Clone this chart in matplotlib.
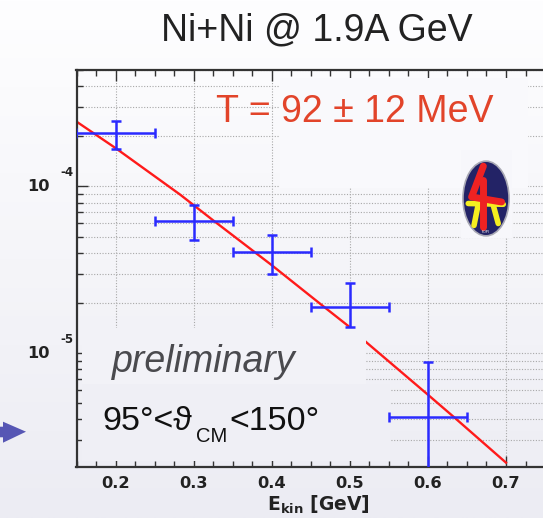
import numpy as np
import matplotlib
matplotlib.use('Agg')
import matplotlib.pyplot as plt
from matplotlib import transforms
from matplotlib.patches import Rectangle, Ellipse, Polygon
from matplotlib.ticker import LogLocator, MultipleLocator, NullFormatter, FormatStrFormatter

plt.rcParams['font.family'] = ['Liberation Sans', 'DejaVu Sans']

# ---------------- data ----------------
energy = [0.2, 0.3, 0.4, 0.5, 0.6]
yield_vals = [2.10e-4, 6.23e-5, 4.03e-5, 1.90e-5, 4.14e-6]
yield_hi = [2.48e-4, 7.77e-5, 5.09e-5, 2.65e-5, 8.87e-6]
yield_lo = [1.67e-4, 4.77e-5, 2.97e-5, 1.43e-5, 1.0e-6]
energy_lo = [0.15, 0.25, 0.35, 0.45, 0.55]
energy_hi = [0.25, 0.35, 0.45, 0.55, 0.65]

fit_energy = [0.150, 0.200, 0.2825, 0.325, 0.400, 0.466, 0.500, 0.5216, 0.6005, 0.6325, 0.700]
fit_yield = [2.45e-4, 1.70e-4, 8.95e-5, 6.26e-5, 3.37e-5, 1.91e-5, 1.43e-5, 1.156e-5, 5.60e-6, 4.16e-6, 2.20e-6]

y_major_ticks = [1e-5, 1e-4]
y_major_exps = ['-5', '-4']

title = 'Ni+Ni @ 1.9A GeV'
temp_label = 'T = 92 \u00b1 12 MeV'

W, H = 543, 518
fig = plt.figure(figsize=(W / 100, H / 100), dpi=100)

top_c = np.array([254, 254, 255]) / 255
bot_c = np.array([236, 236, 243]) / 255


def bgcol(ypx):
    t = ypx / H
    return tuple(top_c + (bot_c - top_c) * t)


def fx(x):
    return x / W


def fy(y):
    return 1 - y / H


# background gradient
bg = fig.add_axes([0, 0, 1, 1], zorder=-5)
grad = np.linspace(0, 1, 256)[:, None, None]
img = top_c[None, None, :] + (bot_c - top_c)[None, None, :] * grad
bg.imshow(img, aspect='auto', extent=[0, 1, 0, 1], origin='upper')
bg.set_axis_off()

# main axes
x_left = 76.5
px_per_unit = (506.0 - 76.5) / 0.55
xmax = 0.78
x_right_px = x_left + (xmax - 0.15) * px_per_unit
y_top, y_bot = 70.0, 466.7
ax = fig.add_axes([fx(x_left), fy(y_bot), (x_right_px - x_left) / W, (y_bot - y_top) / H])
ax.set_facecolor('none')
ax.set_yscale('log')
ax.set_xlim(0.15, xmax)
ax.set_ylim(2.08e-6, 5e-4)
ax.set_axisbelow(True)

ax.xaxis.set_major_locator(MultipleLocator(0.1))
ax.xaxis.set_minor_locator(MultipleLocator(0.025))
ax.xaxis.set_major_formatter(FormatStrFormatter('%.1f'))
ax.yaxis.set_major_locator(LogLocator(base=10))
ax.yaxis.set_minor_locator(LogLocator(base=10, subs=np.arange(2, 10)))
ax.yaxis.set_minor_formatter(NullFormatter())

ax.tick_params(axis='x', which='both', direction='in', top=True, bottom=True,
               labelsize=11.7, pad=7, colors='#333333', labelcolor='#222222')
ax.tick_params(axis='x', which='major', length=8, width=1)
ax.tick_params(axis='x', which='minor', length=4, width=1)
ax.tick_params(axis='y', which='both', direction='in', left=True, right=True,
               labelleft=False, colors='#333333')
ax.tick_params(axis='y', which='major', length=8, width=1)
ax.tick_params(axis='y', which='minor', length=4.5, width=1)
for lab in ax.get_xticklabels():
    lab.set_fontweight('bold')
    lab.set_family('DejaVu Sans')

for s in ax.spines.values():
    s.set_linewidth(1.6)
    s.set_color('#333333')

gridkw = dict(ls=(0, (1, 1.5)), color='#a8a8a8', lw=0.8)
ax.yaxis.grid(True, which='both', **gridkw)
ax.xaxis.grid(True, which='major', **gridkw)

# fit line
ax.plot(fit_energy, fit_yield, color='#ff1a1a', lw=1.7, zorder=2)

# data points with error bars
yv = np.array(yield_vals)
yerr = [yv - np.array(yield_lo), np.array(yield_hi) - yv]
ev = np.array(energy)
xerr = [ev - np.array(energy_lo), np.array(energy_hi) - ev]
ax.errorbar(energy, yield_vals, yerr=yerr, xerr=xerr, fmt='none', ecolor='#2a2aff',
            elinewidth=1.8, capsize=3.5, capthick=1.8, zorder=3)

# background-coloured boxes behind the text labels (hide grid/fit)
boxes = [(280, 528, 78, 188), (461, 512, 150, 238), (82, 366, 328, 384), (82, 390, 384, 461)]
for x0, x1, y0, y1 in boxes:
    ax.add_patch(Rectangle((fx(x0), fy(y1)), (x1 - x0) / W, (y1 - y0) / H,
                           transform=fig.transFigure, facecolor=bgcol((y0 + y1) / 2),
                           edgecolor='none', zorder=2.4))

# y tick labels 10^-n
trans = transforms.blended_transform_factory(fig.transFigure, ax.transData)
for v, e in zip(y_major_ticks, y_major_exps):
    ax.text(fx(38.5), v, '10', transform=trans, ha='center', va='center',
            fontsize=11.7, fontweight='bold', family='DejaVu Sans', color='#222222', clip_on=False)
    t2 = transforms.offset_copy(trans, fig=fig, x=0, y=14, units='dots')
    ax.text(fx(66.5), v, e, transform=t2, ha='center', va='center',
            fontsize=8.5, fontweight='bold', family='DejaVu Sans', color='#222222', clip_on=False)

# x axis label
plt.rcParams['mathtext.fontset'] = 'dejavusans'
fig.text(fx(318.5), fy(510.7), r'$\mathbf{E_{kin}}$ [GeV]', ha='center', va='baseline',
         fontsize=13.5, fontweight='bold', family='DejaVu Sans', color='#222222')

# title and annotations
fig.text(fx(316.7), fy(40), title, ha='center', va='baseline', fontsize=27, color='#222222')
fig.text(fx(355), fy(122.3), temp_label, ha='center', va='baseline', fontsize=27, color='#e2442a')
fig.text(fx(112), fy(371.7), 'preliminary', ha='left', va='baseline', fontsize=27,
         style='italic', color='#4a4a4e')

fig.canvas.draw()
r = fig.canvas.get_renderer()
t_a = fig.text(fx(102), fy(430), '95\u00b0<\u03d1', ha='left', va='baseline', fontsize=24.5, color='#111111')
bb = t_a.get_window_extent(renderer=r)
t_b = fig.text((bb.x1 + 4) / W, fy(441.7), 'CM', ha='left', va='baseline', fontsize=14.5, color='#111111')
bb2 = t_b.get_window_extent(renderer=r)
fig.text((bb2.x1 + 2) / W, fy(430), '<150\u00b0', ha='left', va='baseline', fontsize=24.5, color='#111111')

# logo
lg = fig.add_axes([fx(462), fy(237), 48 / W, 77 / H])
lg.set_xlim(-1, 1)
lg.set_ylim(-1, 1)
lg.set_axis_off()
lg.add_patch(Ellipse((0, 0), 1.92, 1.94, facecolor='#232366', edgecolor='#a8a8b4', lw=1.2))
yl = dict(color='#f5ee20', lw=4, solid_capstyle='round')
lg.plot([-0.74, 0.72], [-0.13, -0.15], **yl)
lg.plot([-0.33, -0.5], [-0.17, -0.70], **yl)
lg.plot([0.30, 0.51], [-0.17, -0.65], **yl)
rl = dict(color='#ee2222', lw=5, solid_capstyle='round')
lg.plot([-0.11, -0.60, 0.65], [0.84, 0.04, -0.09], **rl)
lg.plot([-0.14, -0.14], [0.48, -0.74], **rl)
lg.text(-0.02, -0.88, 'FOPI', ha='center', va='center', fontsize=2.5, color='white')

# arrow at left
arrow = Polygon([(fx(0), fy(426.7)), (fx(3), fy(426.7)), (fx(3), fy(421.7)), (fx(26), fy(431.7)),
                 (fx(3), fy(442.7)), (fx(3), fy(437.3)), (fx(0), fy(437.3))],
                closed=True, transform=fig.transFigure, facecolor='#5656b4', edgecolor='none')
fig.patches.append(arrow)

fig.savefig('out.png', dpi=100)
